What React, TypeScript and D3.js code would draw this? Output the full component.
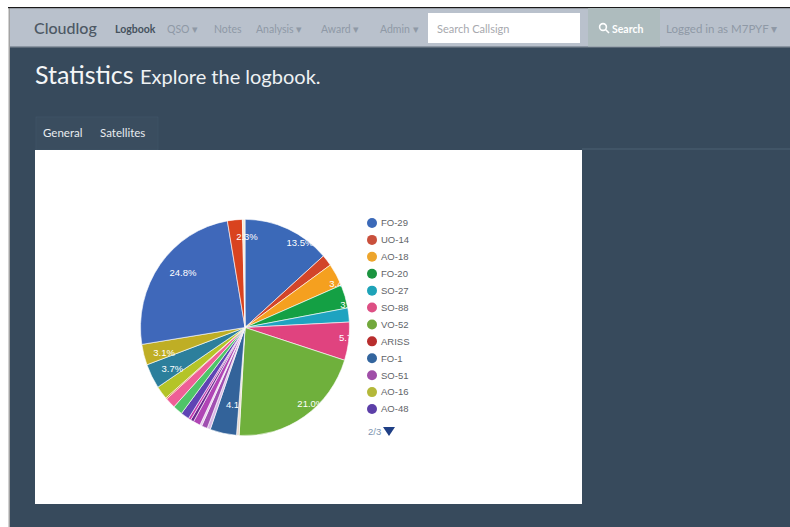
import React from "react";
import * as d3 from "d3";

// Satellite share of logged contacts, in percent, in drawing order.
const sliceNames = ["FO-29","UO-14","AO-18","FO-20","SO-27","SO-88","VO-52","ARISS","FO-1","SO-41","SO-51","SO-35","AO-40","AO-10","AO-48","RS-15","SO-67","XW-2","CO-55","AO-16","SO-50","SO-19","AO-85","HO-68","LO-19"];
const shares = [13.5,1.7,3.4,3.5,2.1,5.7,21.0,0.4,4.1,0.5,0.9,0.3,1.1,0.5,0.4,1.3,1.5,1.6,0.2,2.0,3.7,3.1,24.8,2.3,0.4];
const sliceColors = ["#3b69b8","#d2452a","#f5a01f","#14a044","#1ea3c0","#e0437f","#6fb03c","#e8d8cc","#33639a","#d8b8e4","#a04fb0","#e4c8ea","#b045b5","#6a2a90","#c43ab0","#5f44b4","#4fc468","#ee5f96","#d87020","#b4c428","#2c7f9c","#bfae25","#3f68ba","#d9431f","#f3ead8"];

// Legend rows shown on this page of the chart legend.
const legendNames = ["FO-29","UO-14","AO-18","FO-20","SO-27","SO-88","VO-52","ARISS","FO-1","SO-51","AO-16","AO-48"];
const legendColors = ["#3b69b8","#c9503c","#eda52c","#1b9440","#1ea3b8","#dd4f84","#72a83c","#b82e2e","#33659e","#a04fa8","#b4b83a","#5c3fa8"];

const navItems = ["QSO ▾","Notes","Analysis ▾","Award ▾","Admin ▾"];
const navStarts = [167,214,256,321,380];

// Labelled slices and the small shift each label gets from its arc centroid.
const labelShift: Record<number, [number, number]> = {
  0: [21,-10], 2: [23,-4], 3: [27,1], 5: [23,0], 6: [19,8], 8: [9,-4],
  20: [1,4], 21: [-1,4], 22: [5,-7], 23: [10,-9],
};
// The label of this narrow slice is cut off at the slice's own edge.
const clippedToSlice = 8;

const W = 790, H = 527;
// The pie is drawn slightly taller than wide.
const cx = 245, cy = 327.5, radius = 104.5, stretchY = 1.035;
const pieTransform = `translate(${cx},${cy}) scale(1,${stretchY})`;
const legendY = d3.scaleLinear().domain([0, legendNames.length - 1]).range([223, 409]);
const font = "Lato, 'Open Sans', sans-serif";

export default function App() {
  const pieData = d3.pie<number>().sort(null).value((v) => v)(shares);
  const arc = d3.arc<d3.PieArcDatum<number>>().innerRadius(0).outerRadius(radius);
  const labelArc = d3.arc<d3.PieArcDatum<number>>().innerRadius(radius * 0.79).outerRadius(radius * 0.79);

  return (
    <svg width={W} height={H} viewBox={`0 0 ${W} ${H}`} style={{ position: "absolute", left: 0, top: 0, display: "block" }} fontFamily={font}>
      <rect width={W} height={H} fill="#ffffff" />
      <rect x={9} y={7} width={W - 9} height={H - 7} fill="#374a5c" />
      <rect x={8.5} y={7} width={1.5} height={H - 7} fill="#a3a3a3" />
      <rect x={10} y={8} width={W - 10} height={39} fill="#b9c1cc" />
      <rect x={8} y={7} width={W - 8} height={1.2} fill="#1a1a1a" />
      <rect x={10} y={46.5} width={W - 10} height={1.5} fill="#5d6b79" />

      {/* Navigation bar */}
      <text x={34} y={34} fontSize={16} fontWeight={500} fill="#4d5864">Cloudlog</text>
      <text x={115} y={33} fontSize={10.5} fontWeight={700} fill="#46525e">Logbook</text>
      {navItems.map((t, i) => (
        <text key={t} x={navStarts[i]} y={33} fontSize={10.5} fill="#8f99a6">{t}</text>
      ))}
      <rect x={428} y={13} width={152} height={30} fill="#ffffff" />
      <text x={437} y={33} fontSize={11} fill="#a7a9ae">Search Callsign</text>
      <rect x={588} y={8} width={72} height={38.5} fill="#aebcbe" />
      <circle cx={603} cy={27} r={3.4} fill="none" stroke="#ffffff" strokeWidth={1.6} />
      <line x1={605.5} y1={29.5} x2={609} y2={33} stroke="#ffffff" strokeWidth={1.6} />
      <text x={612} y={33} fontSize={10.5} fontWeight={700} fill="#ffffff">Search</text>
      <text x={666} y={33} fontSize={11.5} fill="#8f99a6">Logged in as M7PYF ▾</text>

      {/* Page heading */}
      <text x={35} y={84} fontSize={25} fill="#f4f6f7">Statistics</text>
      <text x={140} y={84} fontSize={20} fill="#eef1f3">Explore the logbook.</text>

      {/* Tabs */}
      <rect x={36} y={117} width={122} height={33} fill="#3a4d5f" stroke="#42566a" strokeWidth={0.6} />
      <text x={43} y={137} fontSize={11.5} fill="#e8ecef">General</text>
      <text x={100} y={137} fontSize={11.5} fill="#e8ecef">Satellites</text>
      <line x1={582} y1={149} x2={W} y2={149} stroke="#4c6072" />

      {/* Chart card */}
      <rect x={35} y={150} width={547} height={354} fill="#ffffff" />

      <defs>
        <clipPath id="pie-edge">
          <ellipse cx={cx} cy={cy} rx={radius} ry={radius * stretchY} />
        </clipPath>
        <clipPath id="slice-edge">
          <path transform={pieTransform} d={arc(pieData[clippedToSlice]) ?? ""} />
        </clipPath>
      </defs>
      <g transform={pieTransform}>
        {pieData.map((d, i) => (
          <path key={sliceNames[i]} d={arc(d) ?? ""} fill={sliceColors[i]} stroke="#ffffff" strokeWidth={0.6} />
        ))}
      </g>
      <g clipPath="url(#pie-edge)">
        {pieData.map((d, i) => {
          const shift = labelShift[i];
          if (!shift) return null;
          const [x, y] = labelArc.centroid(d);
          return (
            <text key={sliceNames[i]} x={cx + x + shift[0]} y={cy + y + shift[1]} clipPath={i === clippedToSlice ? "url(#slice-edge)" : undefined} textAnchor="middle" dy="0.35em" fontSize={9.5} fill="#ffffff" fontFamily="'Liberation Sans', Arial, sans-serif">
              {`${d.value.toFixed(1)}%`}
            </text>
          );
        })}
      </g>

      {/* Legend */}
      {legendNames.map((name, i) => (
        <g key={name}>
          <circle cx={372} cy={legendY(i)} r={5} fill={legendColors[i]} />
          <text x={381} y={legendY(i)} dy="0.35em" fontSize={9.5} fill="#5f6468" fontFamily="'Liberation Sans', Arial, sans-serif">{name}</text>
        </g>
      ))}
      <text x={368} y={435} fontSize={9.5} fill="#7d95b0" fontFamily="'Liberation Sans', Arial, sans-serif">2/3</text>
      <path d={d3.line()([[383, 427], [395, 427], [389, 436]]) + "Z"} fill="#1f3f85" />
    </svg>
  );
}
